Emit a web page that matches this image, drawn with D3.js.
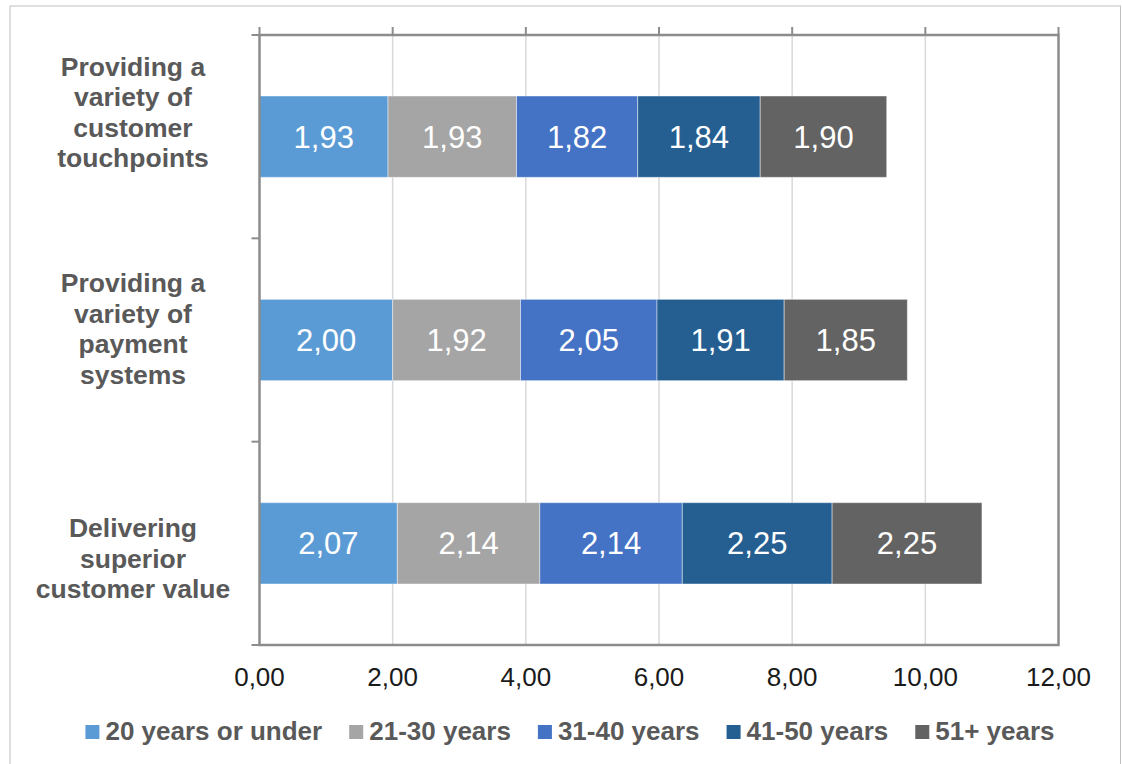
<!DOCTYPE html>
<html>
<head>
<meta charset="utf-8">
<script src="https://cdn.jsdelivr.net/npm/d3@7"></script>
<style>
  html, body { margin: 0; padding: 0; background: #ffffff; }
  svg { display: block; }
  text { font-family: "Liberation Sans", Arial, sans-serif; }
</style>
</head>
<body>
<svg id="chart" width="1122" height="764"></svg>
<script>
// Categories (top to bottom) and their wrapped label lines
const categories = [
  "Providing a variety of customer touchpoints",
  "Providing a variety of payment systems",
  "Delivering superior customer value"
];
const categoryLines = [
  ["Providing a", "variety of", "customer", "touchpoints"],
  ["Providing a", "variety of", "payment", "systems"],
  ["Delivering", "superior", "customer value"]
];

// Age groups (stack order, left to right)
const seriesNames = ["20 years or under", "21-30 years", "31-40 years", "41-50 years", "51+ years"];

// Mean scores per age group, one value per category
const under20  = [1.93, 2.00, 2.07];
const age21_30 = [1.93, 1.92, 2.14];
const age31_40 = [1.82, 2.05, 2.14];
const age41_50 = [1.84, 1.91, 2.25];
const age51up  = [1.90, 1.85, 2.25];

// Axis ticks
const xTicks = [0, 2, 4, 6, 8, 10, 12];

const seriesColors = ["#5B9BD5", "#A5A5A5", "#4472C4", "#255E91", "#636363"];

const seriesValues = [under20, age21_30, age31_40, age41_50, age51up];
const rows = categories.map((c, i) => {
  const r = { category: c };
  seriesNames.forEach((s, k) => { r[s] = seriesValues[k][i]; });
  return r;
});

const stacked = d3.stack().keys(seriesNames)(rows);

const svg = d3.select("#chart");
const plot = { left: 259.5, right: 1058.5, top: 35, bottom: 645 };

const x = d3.scaleLinear().domain([0, 12]).range([plot.left, plot.right]);
const y = d3.scaleBand().domain(categories).range([plot.top, plot.bottom]).paddingInner(0.6).paddingOuter(0.3);
const yFull = d3.scaleBand().domain(categories).range([plot.top, plot.bottom]);

const fmt = v => d3.format(".2f")(v).replace(".", ",");

// Outer chart border
svg.append("rect")
  .attr("x", 10).attr("y", 6)
  .attr("width", 1110.5).attr("height", 780)
  .attr("fill", "none").attr("stroke", "#c0c0c0").attr("stroke-width", 1);

// Vertical gridlines
svg.append("g").selectAll("line")
  .data(xTicks.filter(t => t > 0 && t < 12))
  .join("line")
  .attr("x1", d => x(d)).attr("x2", d => x(d))
  .attr("y1", plot.top).attr("y2", plot.bottom)
  .attr("stroke", "#d9d9d9").attr("stroke-width", 1.5);

// Stacked bars
const layers = svg.append("g").selectAll("g")
  .data(stacked)
  .join("g")
  .attr("fill", (d, i) => seriesColors[i]);

layers.selectAll("rect")
  .data(d => d.map(p => ({ p, key: d.key })))
  .join("rect")
  .attr("x", d => x(d.p[0]))
  .attr("width", d => x(d.p[1]) - x(d.p[0]))
  .attr("y", d => y(d.p.data.category))
  .attr("height", y.bandwidth())
  .attr("stroke", "rgba(255,255,255,0.45)")
  .attr("stroke-width", 1);

// Value labels inside the segments
layers.selectAll("text")
  .data(d => d.map(p => ({ p, key: d.key })))
  .join("text")
  .attr("x", d => (x(d.p[0]) + x(d.p[1])) / 2)
  .attr("y", d => y(d.p.data.category) + y.bandwidth() / 2)
  .attr("dy", "0.36em")
  .attr("text-anchor", "middle")
  .attr("fill", "#ffffff")
  .attr("font-size", "31px")
  .text(d => fmt(d.p.data[d.key]));

// Plot frame
svg.append("rect")
  .attr("x", plot.left).attr("y", plot.top)
  .attr("width", plot.right - plot.left).attr("height", plot.bottom - plot.top)
  .attr("fill", "none").attr("stroke", "#8c8c8c").attr("stroke-width", 2.5);

// Tick marks along the top edge
svg.append("g").selectAll("line")
  .data(xTicks)
  .join("line")
  .attr("x1", d => x(d)).attr("x2", d => x(d))
  .attr("y1", plot.top - 8).attr("y2", plot.top)
  .attr("stroke", "#8c8c8c").attr("stroke-width", 2);

// Category divider ticks along the left edge
const dividers = [plot.top].concat(categories.map(c => yFull(c) + yFull.bandwidth()));
svg.append("g").selectAll("line")
  .data(dividers)
  .join("line")
  .attr("x1", plot.left - 8).attr("x2", plot.left)
  .attr("y1", d => d).attr("y2", d => d)
  .attr("stroke", "#8c8c8c").attr("stroke-width", 2);

// X axis tick labels
svg.append("g").selectAll("text")
  .data(xTicks)
  .join("text")
  .attr("x", d => x(d))
  .attr("y", 686)
  .attr("text-anchor", "middle")
  .attr("fill", "#1a1a1a")
  .attr("font-size", "26px")
  .text(d => fmt(d));

// Category labels, wrapped onto several lines
const lineHeight = 30.5;
const labelNudge = [-24.5, -11.5, 15];
const catG = svg.append("g");
categories.forEach((c, i) => {
  const lines = categoryLines[i];
  const center = yFull(c) + yFull.bandwidth() / 2 + labelNudge[i];
  const first = center - (lines.length - 1) * lineHeight / 2 + 9.3;
  const t = catG.append("text")
    .attr("text-anchor", "middle")
    .attr("fill", "#595959")
    .attr("font-size", "26.5px")
    .attr("font-weight", "bold");
  lines.forEach((ln, j) => {
    t.append("tspan")
      .attr("x", plot.left - 126.5)
      .attr("y", first + j * lineHeight)
      .text(ln);
  });
});

// Legend
const legend = svg.append("g");
const items = legend.selectAll("g")
  .data(seriesNames)
  .join("g");
items.append("rect")
  .attr("width", 14).attr("height", 14)
  .attr("y", -15)
  .attr("fill", (d, i) => seriesColors[i]);
items.append("text")
  .attr("x", 20)
  .attr("y", 0)
  .attr("fill", "#595959")
  .attr("font-size", "26px")
  .attr("font-weight", "bold")
  .text(d => d);

const itemGap = 27;
let cursor = 0;
items.each(function() {
  const g = d3.select(this);
  g.attr("transform", `translate(${cursor},0)`);
  const w = 20 + g.select("text").node().getComputedTextLength();
  cursor += w + itemGap;
});
const totalW = cursor - itemGap;
legend.attr("transform", `translate(${570 - totalW / 2},740)`);
</script>
</body>
</html>
